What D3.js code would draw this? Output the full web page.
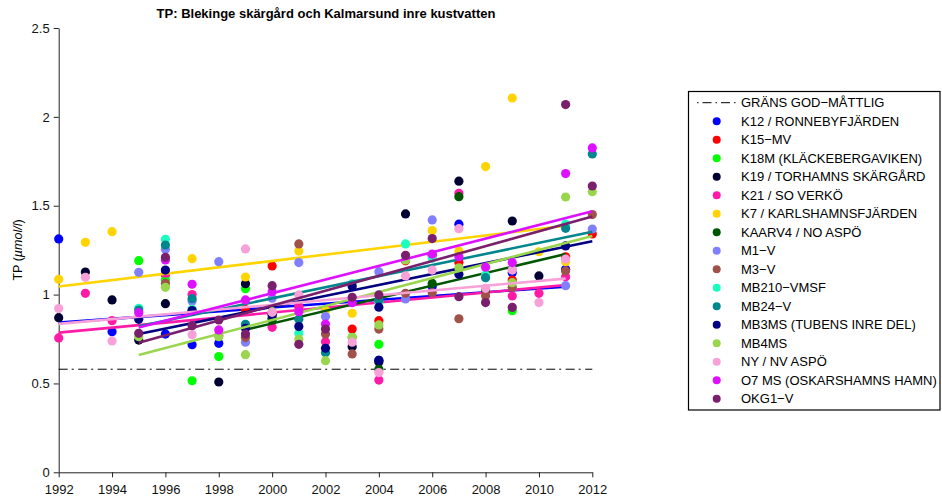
<!DOCTYPE html>
<html><head><meta charset="utf-8">
<script src="https://cdn.jsdelivr.net/npm/d3@7"></script>
<style>body{margin:0;background:#fff}svg{display:block;font-family:"Liberation Sans",Arial,sans-serif}</style>
</head><body><svg id="c" width="942" height="502"></svg>
<script>
const title = "TP: Blekinge skärgård och Kalmarsund inre kustvatten";
const xTicks = [1992,1994,1996,1998,2000,2002,2004,2006,2008,2010,2012];
const yTicks = [0,0.5,1,1.5,2,2.5];
const thresholdLabel = "GRÄNS GOD\u2212MÅTTLIG";
const thresholdValue = 0.58;
const seriesNames = ["K12 / RONNEBYFJÄRDEN","K15\u2212MV","K18M (KLÄCKEBERGAVIKEN)","K19 / TORHAMNS SKÄRGÅRD","K21 / SO VERKÖ","K7 / KARLSHAMNSFJÄRDEN","KAARV4 / NO ASPÖ","M1\u2212V","M3\u2212V","MB210\u2212VMSF","MB24\u2212V","MB3MS (TUBENS INRE DEL)","MB4MS","NY / NV ASPÖ","O7 MS (OSKARSHAMNS HAMN)","OKG1\u2212V"];
const seriesColors = ["#0000ff","#ff0000","#00ff00","#000033","#ff1aa8","#ffd400","#005500","#8080ff","#a0524a","#1affc0","#00868c","#000080","#99d64d","#f7a1d8","#dd11ff","#7a1f6b"];

const k12   = [[1992,1.313],[1994,0.791],[1996,0.778],[1997,0.718],[1998,0.726],[2000,0.89],[2004,0.63],[2006,1.045],[2007,1.396],[2009,1.123],[2011,1.142]];
const k15   = [[1996,1.11],[1999,0.915],[2000,1.161],[2001,0.932],[2003,0.806],[2004,0.853],[2005,1.19],[2006,1.223],[2007,1.18],[2009,1.082],[2011,1.213],[2012,1.341]];
const k18   = [[1995,1.191],[1996,1.082],[1997,0.515],[1998,0.651],[1999,1.033],[2003,0.76],[2004,0.72],[2009,0.909]];
const k19   = [[1992,0.870],[1993,1.127],[1994,0.970],[1995,0.744],[1996,0.949],[1997,0.905],[1998,0.508],[1999,1.061],[2000,0.867],[2003,0.707],[2004,0.62],[2005,1.454],[2007,1.638],[2009,1.414],[2010,1.105]];
const k21   = [[1992,0.756],[1993,1.007],[1994,0.853],[1996,1.12],[1997,1.0],[1998,0.77],[2000,0.816],[2001,0.935],[2002,0.735],[2004,0.519],[2006,1.22],[2007,1.570],[2009,0.992],[2010,1.007],[2011,1.101]];
const k7    = [[1992,1.086],[1993,1.294],[1994,1.354],[1997,1.202],[1999,1.099],[2001,1.245],[2002,0.91],[2003,0.895],[2006,1.360],[2007,1.245],[2008,1.720],[2009,2.106],[2010,1.241],[2011,1.185]];
const kaarv4= [[2000,0.857],[2004,0.58],[2006,1.063],[2007,1.551],[2008,1.027]];
const m1v   = [[1995,1.125],[1996,1.255],[1997,0.964],[1998,1.185],[1999,0.732],[2000,0.98],[2001,1.180],[2002,0.876],[2004,1.129],[2005,0.975],[2006,1.420],[2009,1.14],[2011,1.050],[2012,1.369]];
const m3v   = [[1996,1.063],[1999,0.758],[2001,1.285],[2002,0.778],[2003,0.666],[2004,0.806],[2005,1.007],[2006,1.011],[2007,0.864],[2008,0.994],[2009,1.041],[2011,1.133],[2012,1.450]];
const mb210 = [[1995,0.923],[1996,1.311],[1997,0.917],[2001,0.782],[2003,1.060],[2004,0.96],[2005,1.285],[2006,1.204],[2008,1.110],[2011,1.397]];
const mb24  = [[1995,0.913],[1996,1.279],[1997,0.977],[1999,0.833],[2001,0.861],[2002,0.673],[2004,0.97],[2008,1.095],[2011,1.373],[2012,1.791]];
const mb3ms = [[1995,0.861],[1996,1.138],[1997,0.91],[1999,0.810],[2000,0.885],[2001,0.820],[2002,0.698],[2003,1.045],[2004,0.929],[2004,0.63],[2007,1.114],[2011,1.274]];
const mb4ms = [[1995,0.763],[1996,1.041],[1998,0.763],[1999,0.662],[2000,0.904],[2001,0.749],[2002,0.628],[2003,0.758],[2004,0.829],[2005,1.195],[2007,1.151],[2009,1.067],[2011,1.549],[2012,1.579]];
const nyAspo= [[1992,0.921],[1993,1.097],[1994,0.739],[1997,0.774],[1999,1.257],[2000,0.900],[2001,0.998],[2003,0.732],[2004,0.561],[2005,1.105],[2006,1.138],[2007,1.371],[2008,1.035],[2009,1.138],[2010,0.955],[2011,1.200]];
const o7ms  = [[1995,0.898],[1996,1.195],[1997,1.058],[1998,0.801],[1999,0.970],[2000,1.016],[2001,0.904],[2002,0.834],[2003,0.954],[2006,1.228],[2007,1.213],[2008,1.154],[2009,1.180],[2011,1.681],[2012,1.825]];
const okg1  = [[1995,0.782],[1996,1.210],[1997,0.825],[1998,0.857],[1999,0.778],[2000,1.050],[2001,0.720],[2002,0.806],[2003,0.985],[2004,0.998],[2005,1.221],[2006,1.315],[2007,0.988],[2008,0.955],[2009,0.928],[2011,2.069],[2012,1.611]];
const seriesPoints = [k12,k15,k18,k19,k21,k7,kaarv4,m1v,m3v,mb210,mb24,mb3ms,mb4ms,nyAspo,o7ms,okg1];

// trend lines: series index, start year, start value, end year, end value
const trendSeries = [0,4,5,6,10,11,12,13,14,15];
const trendX0 = [1992,1992,1992,1999,1995,1995,1995,1992,1995,1995];
const trendY0 = [0.842,0.786,1.045,0.802,0.822,0.778,0.660,0.835,0.815,0.729];
const trendX1 = [2011,2011,2011,2011,2012,2012,2012,2011,2012,2012];
const trendY1 = [1.045,1.054,1.387,1.228,1.354,1.300,1.330,1.090,1.469,1.440];

const svg = d3.select("#c");
const x = d3.scaleLinear().domain([1992,2012]).range([58.7,592.3]);
const y = d3.scaleLinear().domain([0,2.5]).range([472.3,28]);

svg.append("text").attr("x",326).attr("y",18).attr("text-anchor","middle")
  .attr("font-weight","bold").attr("font-size",13).text(title);

const gx = svg.append("g").attr("transform","translate(0,472.3)")
  .call(d3.axisBottom(x).tickValues(xTicks).tickFormat(d3.format("d")).tickSize(5).tickPadding(7).tickSizeOuter(0));
const gy = svg.append("g").attr("transform","translate(58.7,0)")
  .call(d3.axisLeft(y).tickValues(yTicks).tickFormat(d=>String(d)).tickSize(5).tickPadding(4).tickSizeOuter(0));
[gx,gy].forEach(g=>{g.selectAll("text").attr("font-size",13).attr("fill","#111").attr("font-family","Liberation Sans, Arial, sans-serif");
  g.selectAll("line,path").attr("stroke","#222");});

const yl = svg.append("text").attr("transform","translate(22,250) rotate(-90)").attr("text-anchor","middle").attr("font-size",12.5);
yl.append("tspan").text("TP (");
yl.append("tspan").attr("font-style","italic").text("\u00b5mol/l");
yl.append("tspan").text(")");

svg.append("line").attr("x1",x(1992)).attr("x2",x(2012)).attr("y1",y(thresholdValue)).attr("y2",y(thresholdValue))
  .attr("stroke","#000").attr("stroke-width",1).attr("stroke-dasharray","9,4,2,4.5");

seriesPoints.forEach((pts,i)=>{
  svg.append("g").selectAll("circle").data(pts).join("circle")
    .attr("cx",d=>x(d[0])).attr("cy",d=>y(d[1])).attr("r",4.6).attr("fill",seriesColors[i]);
  const t = trendSeries.indexOf(i);
  if(t>=0){
    svg.append("line").attr("x1",x(trendX0[t])).attr("y1",y(trendY0[t])).attr("x2",x(trendX1[t])).attr("y2",y(trendY1[t]))
      .attr("stroke",seriesColors[i]).attr("stroke-width",2.6);
  }
});

// legend
const lg = svg.append("g");
lg.append("rect").attr("x",688.5).attr("y",91.5).attr("width",251.5).attr("height",318.5).attr("fill","#fff").attr("stroke","#000").attr("stroke-width",1.2);
const ly = i => 102.7 + i*18.5;
lg.append("line").attr("x1",697).attr("x2",737).attr("y1",ly(0)).attr("y2",ly(0)).attr("stroke","#000").attr("stroke-dasharray","1.5,4,9,4");
lg.append("text").attr("x",741).attr("y",ly(0)+4.6).attr("font-size",13).text(thresholdLabel);
seriesNames.forEach((n,i)=>{
  lg.append("circle").attr("cx",716.7).attr("cy",ly(i+1)).attr("r",4).attr("fill",seriesColors[i]);
  lg.append("text").attr("x",741).attr("y",ly(i+1)+4.6).attr("font-size",13).text(n);
});
</script></body></html>
